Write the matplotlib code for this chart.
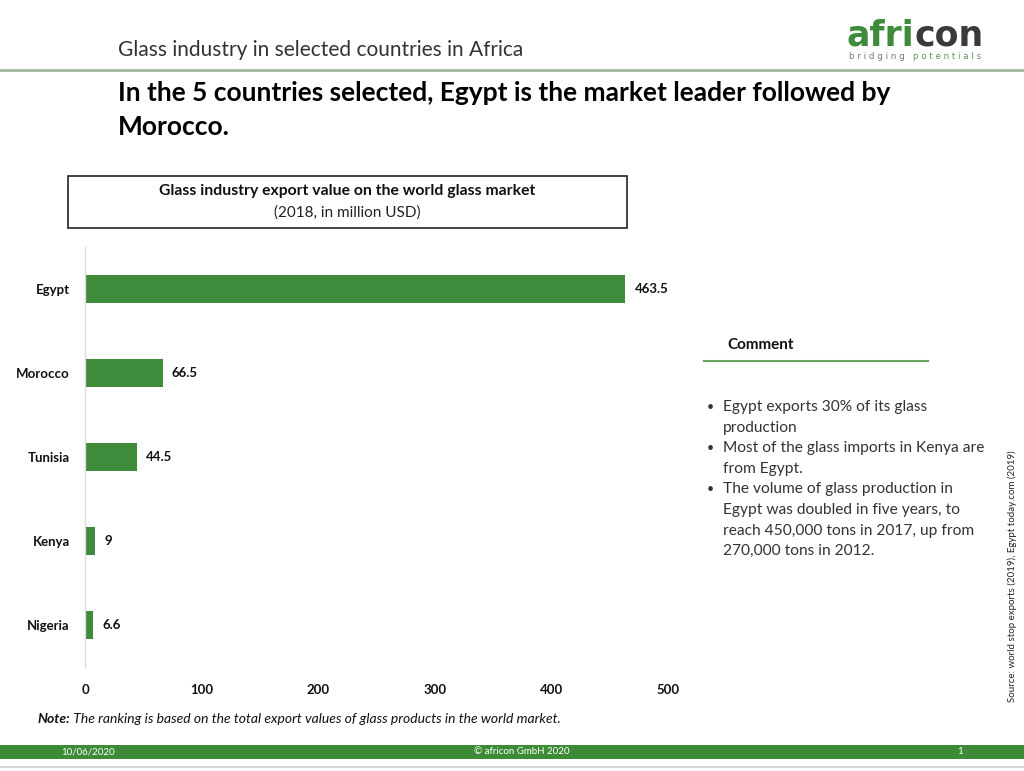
import numpy as np
import matplotlib
matplotlib.use('Agg')
import matplotlib.pyplot as plt
from matplotlib.patches import Rectangle
from matplotlib.lines import Line2D

# data
countries = ['Egypt', 'Morocco', 'Tunisia', 'Kenya', 'Nigeria']
values = [463.5, 66.5, 44.5, 9, 6.6]
value_labels = ['463.5', '66.5', '44.5', '9', '6.6']
xticks = [0, 100, 200, 300, 400, 500]

bullets = [
    ['Egypt exports 30% of its glass', 'production'],
    ['Most of the glass imports in Kenya are', 'from Egypt.'],
    ['The volume of glass production in', 'Egypt was doubled in five years, to',
     'reach 450,000 tons in 2017, up from', '270,000 tons in 2012.'],
]

GREEN = '#3f8b3c'
DARK = '#333333'
FONT = 'Lato'

W, H = 1024, 771


def fx(x):
    return x / W


def fy(y):
    return 1 - y / H


fig = plt.figure(figsize=(10.24, 7.71), dpi=100)
fig.patch.set_facecolor('white')

# bar chart
ax = fig.add_axes([fx(85), fy(667), fx(668) - fx(85), fy(247) - fy(667)])
ypos = np.arange(len(countries))
ax.barh(ypos, values, height=0.34, color=GREEN)
for y, v, lab in zip(ypos, values, value_labels):
    ax.text(v + 8, y, lab, va='center', ha='left', fontsize=9.5,
            fontweight='bold', family=FONT, color='#111111')
ax.set_xlim(0, 500)
ax.set_ylim(len(countries) - 0.5, -0.5)
ax.set_yticks(ypos)
ax.set_yticklabels(countries)
ax.set_xticks(xticks)
ax.tick_params(length=0, pad=12)
ax.tick_params(axis='y', pad=11)
for lab in ax.get_xticklabels() + ax.get_yticklabels():
    lab.set_family(FONT)
    lab.set_fontweight('bold')
    lab.set_fontsize(9.5)
    lab.set_color('#111111')
for s in ['top', 'right', 'bottom']:
    ax.spines[s].set_visible(False)
ax.spines['left'].set_color('#d9d9d9')
ax.spines['left'].set_linewidth(1.0)

# header
fig.text(fx(118), fy(50), 'Glass industry in selected countries in Africa',
         fontsize=15, family=FONT, color=DARK, va='center', ha='left')
fig.add_artist(Line2D([0, 1], [fy(70), fy(70)], transform=fig.transFigure,
                      color='#9fb89c', lw=2))

# logo
renderer = fig.canvas.get_renderer()
t1 = fig.text(fx(847), fy(46), 'afri', fontsize=25, fontweight='bold',
              family='DejaVu Sans', color=GREEN, va='baseline', ha='left')
bb = t1.get_window_extent(renderer)
fig.text(bb.x1 / W, fy(46), 'con', fontsize=25, fontweight='bold',
         family='DejaVu Sans', color='#3a3a3a', va='baseline', ha='left')
t2 = fig.text(fx(849), fy(59), 'b r i d g i n g   ', fontsize=6.3,
              family='DejaVu Sans', color='#777777', va='baseline', ha='left')
bb2 = t2.get_window_extent(renderer)
fig.text(bb2.x1 / W, fy(59), 'p o t e n t i a l s', fontsize=6.3,
         family='DejaVu Sans', color='#5d9a57', va='baseline', ha='left')

# main title
fig.text(fx(118), fy(93), 'In the 5 countries selected, Egypt is the market leader followed by',
         fontsize=19, fontweight='bold', family=FONT, color='black', va='center', ha='left')
fig.text(fx(118), fy(127), 'Morocco.',
         fontsize=19, fontweight='bold', family=FONT, color='black', va='center', ha='left')

# chart title box
fig.add_artist(Rectangle((fx(68), fy(228)), fx(627) - fx(68), fy(176) - fy(228),
                         transform=fig.transFigure, fill=False, edgecolor='#222222', lw=1.2))
fig.text(fx(347), fy(191), 'Glass industry export value on the world glass market',
         fontsize=11.3, fontweight='bold', family=FONT, color='#111111', ha='center', va='center')
fig.text(fx(347), fy(213), '(2018, in million USD)',
         fontsize=11, family=FONT, color='#222222', ha='center', va='center')

# comment block
fig.text(fx(727), fy(345), 'Comment', fontsize=11, fontweight='bold', family=FONT,
         color='#111111', ha='left', va='center')
fig.add_artist(Line2D([fx(704), fx(928)], [fy(361), fy(361)], transform=fig.transFigure,
                      color='#6aa563', lw=1.5))
y = 407
step = 20.6
for lines in bullets:
    fig.text(fx(707), fy(y), '\u2022', fontsize=9, family=FONT, color=DARK,
             ha='left', va='center')
    for line in lines:
        fig.text(fx(723), fy(y), line, fontsize=11.2, family=FONT, color=DARK,
                 ha='left', va='center')
        y += step

# source
fig.text(fx(1012), fy(576), 'Source: world stop exports (2019), Egypt today.com (2019)',
         fontsize=7, family=FONT, color='#222222', rotation=90, ha='center', va='center')

# note
tn = fig.text(fx(37), fy(719), 'Note:', fontsize=10, fontweight='bold', style='italic',
              family=FONT, color='#111111', ha='left', va='center')
bbn = tn.get_window_extent(renderer)
fig.text(bbn.x1 / W, fy(719),
         ' The ranking is based on the total export values of glass products in the world market.',
         fontsize=10, style='italic', family=FONT, color='#111111', ha='left', va='center')

# footer
fig.add_artist(Rectangle((0, fy(759)), 1, fy(745) - fy(759), transform=fig.transFigure,
                         facecolor='#3d8b37', edgecolor='none'))
fig.text(fx(88), fy(752), '10/06/2020', fontsize=7, family=FONT, color='white',
         ha='center', va='center')
fig.text(fx(522), fy(752), '\u00a9 africon GmbH 2020', fontsize=7, family=FONT,
         color='white', ha='center', va='center')
fig.text(fx(960), fy(752), '1', fontsize=7, family=FONT, color='white',
         ha='center', va='center')
fig.add_artist(Line2D([0, 1], [fy(767), fy(767)], transform=fig.transFigure,
                      color='#cccccc', lw=1.2))

fig.savefig('out.png', dpi=100)
